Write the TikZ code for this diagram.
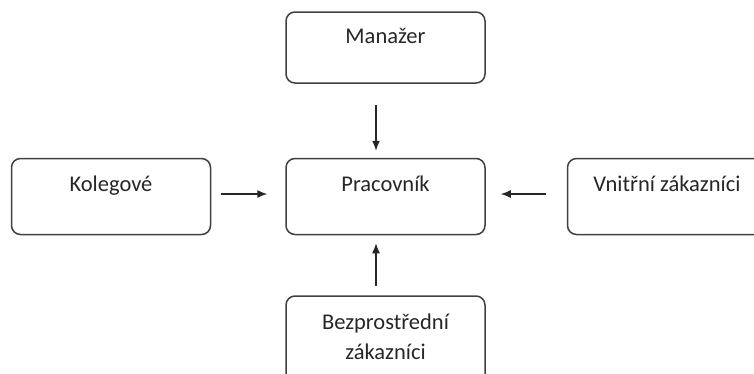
\documentclass[tikz,border=0pt]{standalone}
\usepackage{fontspec}
\setmainfont{Carlito}
\usetikzlibrary{positioning,arrows.meta}

\begin{document}
\begin{tikzpicture}[x=1pt, y=-1pt, node distance=74pt,
    role box/.style={draw=black!75, line width=1.5pt, rounded corners=9pt,
      minimum width=199pt, inner xsep=0pt, inner ysep=0pt, align=center,
      text=black!85, font=\fontsize{22.5}{30}\selectfont,
      text height=33pt, text depth=43pt},
    flow/.style={-{Latex[length=10pt,width=8pt]}, line width=1.3pt, black!85}]
  \useasboundingbox (0,0) rectangle (754,373);
  \clip (0,0) rectangle (754,373);

  \node[role box] (prac) at (385.5,196.5) {Pracovník};
  \node[role box, text height=31pt, text depth=40pt] (man) [above=of prac] {Manažer};
  \node[role box] (kol) [left=of prac] {Kolegové};
  \node[role box] (vni) [right=81pt of prac] {Vnitřní zákazníci};
  \node[role box, text height=63pt, text depth=70pt] (bez) [below=60pt of prac] {Bezprostřední\\zákazníci};

  \draw[flow, shorten <=21pt, shorten >=7pt] ([xshift=-9.5pt]man.south) -- ([xshift=-9.5pt]prac.north);
  \draw[flow, shorten <=10pt, shorten >=18pt] ([yshift=2.5pt]kol.east) -- ([yshift=2.5pt]prac.west);
  \draw[flow, shorten <=21pt, shorten >=15pt] ([yshift=2.5pt]vni.west) -- ([yshift=2.5pt]prac.east);
  \draw[flow, shorten <=9pt, shorten >=8pt] ([xshift=-9.5pt]bez.north) -- ([xshift=-9.5pt]prac.south);
\end{tikzpicture}
\end{document}
